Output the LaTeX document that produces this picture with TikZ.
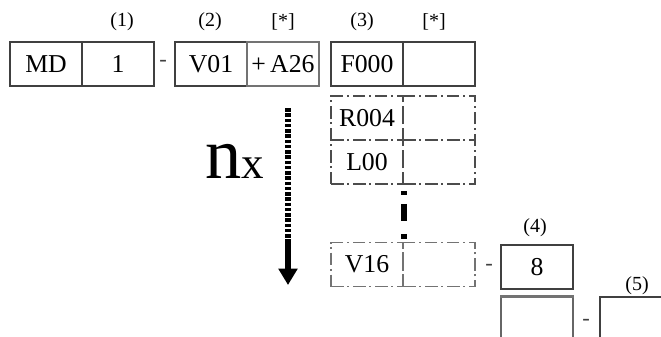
\documentclass[tikz,border=0pt]{standalone}
\usepackage{fontspec}
\setmainfont{Liberation Serif}
\usetikzlibrary{arrows.meta}

\tikzset{
  cell/.style={rectangle, draw=black!75, line width=0.6pt, minimum width=28.8pt, minimum height=17.6pt, inner sep=0pt, font=\fontsize{10.3}{12}\selectfont},
  dashcell/.style={cell, draw=black!70, dash pattern=on 5pt off 1.5pt on 0.8pt off 1.5pt},
  tag/.style={inner sep=0pt, font=\fontsize{8}{10}\selectfont},
  hyph/.style={inner sep=0pt, text=black!75, font=\fontsize{9}{10}\selectfont}
}

\begin{document}
\begin{tikzpicture}[x=0.4pt, y=-0.4pt]
    \useasboundingbox (0,0) rectangle (661,336);
    \clip (0,0) rectangle (661,336);

    % Draw cells
    \node[cell] (md) at (46,64) {MD};
    \node[cell] (one) at (118,64) {1};
    \node[cell] (v01) at (211,64) {V01};
    \node[cell, draw=black!55] (a26) at (283,64) {+\,A26};
    \node[cell] (f000) at (367,64) {F000};
    \node[cell] (f000x) at (439,64) {};
    \node[dashcell] (r004) at (367,118) {R004};
    \node[dashcell] (r004x) at (439,118) {};
    \node[dashcell] (l00) at (367,162) {L00};
    \node[dashcell] (l00x) at (439,162) {};
    \node[dashcell, draw=black!55] (v16) at (367,264.5) {V16};
    \node[dashcell, draw=black!55] (v16x) at (439,264.5) {};
    \node[cell] (eight) at (537,267) {8};
    \node[cell, draw=black!60] (blank) at (537,319) {};
    \node[cell] (blankfive) at (636,319) {};
    \draw[line width=1.2pt, black!55] (blank.north west) -- (blank.north east);

    % Labels
    \node[tag] (l1) at (122,22) {(1)};
    \node[tag] (l2) at (210,22) {(2)};
    \node[tag] (ls1) at (283,22) {[*]};
    \node[tag] (l3) at (362,22) {(3)};
    \node[tag] (ls2) at (434,22) {[*]};
    \node[tag] (l4) at (535,228) {(4)};
    \node[tag] (l5) at (637,286) {(5)};

    % Hyphens
    \node[hyph] (h1) at (163,63) {-};
    \node[hyph] (h2) at (489,267) {-};
    \node[hyph] (h3) at (586,322) {-};

    % Repeat count
    \node[anchor=base west, inner sep=0pt] (nx) at (205,178)
        {\fontsize{29}{30}\selectfont n\fontsize{18}{20}\selectfont x};

    % Draw connections
    \coordinate (top) at (288,108);
    \coordinate (bend) at (288,239);
    \coordinate (tip) at (288,285);
    \draw[line width=2.4pt, dash pattern=on 1.4pt off 0.7pt] (top) -- (bend);
    \draw[line width=2.4pt, -{Triangle[width=7.4pt, length=6.6pt]}] (bend) -- (tip);
    \draw[line width=2.4pt, shorten <=2.4pt, shorten >=0.8pt,
        dash pattern=on 1.6pt off 3.6pt on 6.8pt off 5.2pt on 2pt off 2pt]
        (l00.south east) -- (v16.north east);
\end{tikzpicture}
\end{document}
